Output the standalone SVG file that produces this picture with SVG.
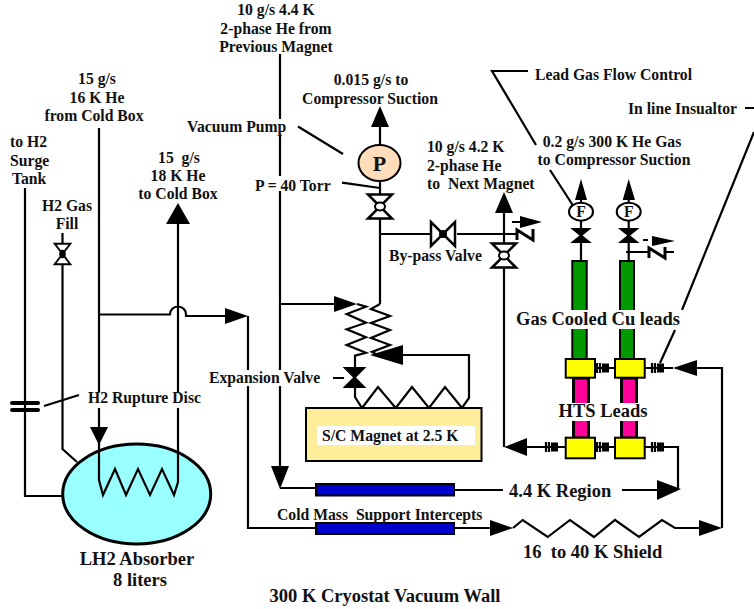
<svg xmlns="http://www.w3.org/2000/svg" width="754" height="609" viewBox="0 0 754 609">
<style>
text{font-family:"Liberation Serif","Times New Roman",serif;font-weight:bold;font-size:15.7px;fill:#111;white-space:pre}
.m{text-anchor:middle}
.l{font-size:18.5px}
.w{fill:none;stroke:#000;stroke-width:2.2}
.t{fill:none;stroke:#000;stroke-width:3}
.a{fill:#000;stroke:none}
.v{fill:#fff;stroke:#000;stroke-width:2.5}
.s{fill:#000;stroke:#000;stroke-width:2}
.y{fill:#ffff00;stroke:#000;stroke-width:2}
.g{fill:#009900;stroke:#000;stroke-width:2}
.p{fill:#ff0099;stroke:#000;stroke-width:3}
.b{fill:#0000cc;stroke:#000;stroke-width:2}
.k{fill:#fff;stroke:none}
</style>
<defs>
<g id="ins"><path class="w" d="M0-5V5M3-5V5"/><rect class="a" x="5" y="-4.500" width="7" height="9"/></g>
<g id="vv"><path class="v" d="M-12-12H12L-12 12H12Z"/><ellipse cx="0" cy="0" rx="5" ry="4" fill="#fff" stroke="#000" stroke-width="2"/></g>
</defs>
<g id="connectors">
<path class="w" d="M25 188V496H62"/>
<path class="w" d="M62.500 233V449L77 462"/>
<path class="w" d="M98 314.500H170A8 8 0 0 1 186 314.500V316H226M248 316V528H316"/>
<path class="w" d="M99 128V445M178 224V444"/>
<path class="w" d="M280 54V466M280 488H316M280 304H335"/>
<path class="w" d="M454 490H503M622 490H658M454 528H490"/>
<path class="w" d="M513 528L522.700 520 547.700 537 570 520 594 537 615 520 639 537 662 520 675 528H700"/>
<path class="w" d="M722 528V368H697M673 368H645"/>
<path class="w" d="M645 447H678V489"/>
<path class="w" d="M595 368H615M595 447H615M527 447H566"/>
<path class="w" d="M504 447V213"/>
<path class="w" d="M380 127V145M380 181V304M380 234H430M457 234H516"/>
<path class="w" d="M380 304L371 309 390 316 371 323 390 330 371 338 390 345 372 352 380 356"/>
<path class="w" d="M357 304L366 306.700 346.700 314 366 322.700 346.700 329.300 366 337.300 346.700 345 366 352.700 355 355.700V397L362 408 378 387 395.700 408 412 387 429 408 445 387 462 408 469 398V355H403"/>
<path class="w" d="M581 200V261M628.700 200V261M626 252H648M665 252H674"/>
<path class="w" d="M44 406L79 395M528 71H492L536 145M550 170L572.700 205M745 108H754M754 132L682 310M675 330L660 363"/>
<path class="w" d="M298 126.500L343 154M342 182.700L380 188M333 378H344"/>
<path class="t" d="M517 240V230L533 240V229"/>
<path class="t" d="M649 258V248L665 258V247"/>
<path class="w" d="M512 222H520M643 240H648"/>
<path class="a" d="M380 106L389 127H371ZM178 203L190 224H166ZM504 192L513 213H495ZM248 316L225 308V324ZM357 304L334 296V312ZM370 355L403 345V365ZM99 445L90 427H108ZM280 489L271 466H289ZM504 447L527 438V456ZM681 489L657 480V500ZM513 528L490 520V536ZM722 528L699 520V536ZM673 368L697 360V376ZM581 179L587 200H575ZM628.700 179L635 200H622.700ZM542 222L520 216V228ZM675 241L652 236V246Z"/>
<path class="w" d="M12 403H38M12 410H38" style="stroke-width:4;stroke-linecap:round"/>
</g>
<g id="lh2-absorber"><ellipse cx="136.700" cy="494" rx="74" ry="50" fill="#99ffff" stroke="#000" stroke-width="3"/>
<path class="w" d="M99 444V480L103 495 115 469 126 495 138 469 150 495 162 469 174 495 178 482V444"/></g>
<g id="magnet"><rect x="306" y="408" width="175.500" height="53" fill="#ffee99" stroke="#000" stroke-width="2"/><rect class="k" x="317" y="426" width="158" height="19"/><text x="322" y="441">S/C Magnet at 2.5 K</text></g>
<g id="bars"><rect class="b" x="316" y="484" width="138" height="11.500"/><rect class="b" x="316" y="523" width="138" height="11"/></g>
<g id="pump"><ellipse cx="379.500" cy="163" rx="21" ry="18" fill="#ffddbb" stroke="#000" stroke-width="2"/><text x="379.500" y="171" class="m" style="font-size:22px">P</text></g>
<g id="valves">
<use href="#vv" transform="translate(380 206.500)"/>
<use href="#vv" transform="translate(504 255.500)"/>
<g transform="translate(443 234) rotate(90)"><path class="v" d="M-12-12H12L-12 12H12Z"/><circle r="4" fill="#000"/></g>
<g transform="translate(62.500 254) scale(.65 .85)"><path class="v" d="M-12-12H12L-12 12H12Z"/><circle r="5" fill="#000"/></g>
<path class="s" d="M345 368H364L345 387H364Z"/>
<path class="s" d="M573 229H589L573 242H589Z"/>
<path class="s" d="M620.700 229H636.700L620.700 242H636.700Z"/>
</g>
<g id="flow-meters"><ellipse cx="581" cy="211.700" rx="12" ry="9" fill="#fff" stroke="#000" stroke-width="2"/><text x="581" y="217" class="m">F</text><ellipse cx="628.700" cy="211.700" rx="12" ry="9" fill="#fff" stroke="#000" stroke-width="2"/><text x="628.700" y="217" class="m">F</text></g>
<g id="leads">
<rect class="g" x="572.300" y="261" width="14.400" height="98"/><rect class="g" x="620" y="261" width="14" height="98"/>
<rect class="p" x="573.500" y="378" width="15" height="60"/><rect class="p" x="621.500" y="378" width="15" height="60"/>
<rect class="y" x="565.700" y="359" width="29.300" height="18.700"/><rect class="y" x="615" y="359" width="29.700" height="18.700"/>
<rect class="y" x="565.700" y="437.700" width="29.300" height="20.600"/><rect class="y" x="615" y="437.700" width="29.700" height="20.600"/>
<use href="#ins" x="597" y="368"/><use href="#ins" x="652" y="368"/><use href="#ins" x="597" y="447"/><use href="#ins" x="652" y="447"/><use href="#ins" x="546" y="447"/>
</g>
<g id="labels">
<rect class="k" x="515" y="310" width="168" height="19"/><rect class="k" x="558" y="403" width="92" height="18"/>
<rect class="k" x="208" y="370" width="114" height="16"/><rect class="k" x="270" y="119" width="20" height="15"/><rect class="k" x="254" y="176" width="80" height="15"/>
<rect class="k" x="88" y="392" width="114" height="16"/>
<text x="88" y="403">H2 Rupture Disc</text>
<text x="276" y="15" class="m">10 g/s 4.4 K</text><text x="276" y="34" class="m">2-phase He from</text><text x="276" y="52" class="m">Previous Magnet</text>
<text x="97" y="84" class="m">15 g/s</text><text x="97" y="103" class="m">16 K He</text><text x="94" y="121" class="m">from Cold Box</text>
<text x="10" y="147">to H2</text><text x="10" y="166">Surge</text><text x="12" y="184">Tank</text>
<text x="67" y="211" class="m">H2 Gas</text><text x="67" y="229" class="m">Fill</text>
<text x="179" y="163" class="m">15  g/s</text><text x="178" y="181" class="m">18 K He</text><text x="178" y="199" class="m">to Cold Box</text>
<text x="187" y="132">Vacuum Pump</text><text x="255" y="191">P = 40 Torr</text>
<text x="371" y="85" class="m">0.015 g/s to</text><text x="370" y="104" class="m">Compressor Suction</text>
<text x="427" y="152">10 g/s 4.2 K</text><text x="427" y="171">2-phase He</text><text x="427" y="189">to  Next Magnet</text>
<text x="389" y="261">By-pass Valve</text>
<text x="535" y="80">Lead Gas Flow Control</text><text x="628" y="114">In line Insualtor</text>
<text x="612" y="147" class="m">0.2 g/s 300 K He Gas</text><text x="614" y="165" class="m">to Compressor Suction</text>
<text x="516" y="325" class="l">Gas Cooled Cu leads</text><text x="603" y="417" class="m l">HTS Leads</text>
<text x="209" y="383">Expansion Valve</text>
<text x="277" y="520">Cold Mass  Support Intercepts</text>
<text x="509" y="497" class="l">4.4 K Region</text><text x="523" y="558" class="l">16  to 40 K Shield</text>
<text x="137" y="565" class="m l">LH2 Absorber</text><text x="140" y="586" class="m l">8 liters</text>
<text x="385" y="602" class="m l">300 K Cryostat Vacuum Wall</text>
</g>
</svg>
